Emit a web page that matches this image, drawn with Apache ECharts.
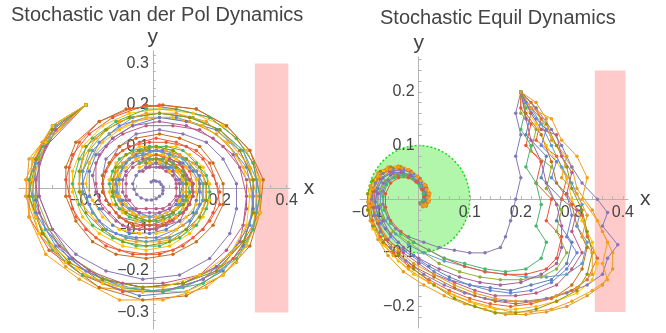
<!DOCTYPE html>
<html>
<head>
<meta charset="utf-8">
<script src="https://cdn.jsdelivr.net/npm/echarts@6/dist/echarts.min.js"></script>
<style>
  html, body { margin: 0; padding: 0; background: #fff; }
  #main { width: 666px; height: 333px; }
</style>
</head>
<body>
<div id="main"></div>
<script>
// left panel: stochastic van der Pol trajectories, all start at (-0.2, 0.2)
const vdp1 = [[-0.2,0.2],[-0.3,0.15],[-0.35,0.07],[-0.36,-0.02],[-0.33,-0.11],[-0.25,-0.18],[-0.15,-0.22],[-0.03,-0.24],[0.09,-0.23],[0.19,-0.19],[0.27,-0.13],[0.32,-0.06],[0.32,0.02],[0.29,0.09],[0.22,0.15],[0.13,0.19],[0.02,0.2],[-0.07,0.19],[-0.16,0.16],[-0.22,0.11],[-0.25,0.05],[-0.25,-0.02],[-0.23,-0.07],[-0.17,-0.12],[-0.1,-0.15],[-0.02,-0.16],[0.06,-0.15],[0.12,-0.12],[0.17,-0.08],[0.2,-0.04],[0.19,0.01],[0.17,0.06],[0.13,0.09],[0.07,0.11],[0.01,0.12],[-0.04,0.11],[-0.09,0.09],[-0.13,0.06],[-0.15,0.03],[-0.15,-0.01],[-0.13,-0.04],[-0.1,-0.07],[-0.06,-0.09],[-0.01,-0.1],[0.03,-0.09],[0.07,-0.07],[0.1,-0.05],[0.12,-0.02],[0.12,0.01],[0.11,0.04],[0.08,0.06],[0.05,0.07],[0.01,0.08],[-0.03,0.08]]
const vdp2 = [[-0.2,0.2],[-0.29,0.15],[-0.37,0.07],[-0.38,-0.02],[-0.34,-0.11],[-0.26,-0.19],[-0.16,-0.24],[-0.03,-0.25],[0.09,-0.24],[0.2,-0.2],[0.26,-0.13],[0.3,-0.06],[0.29,0.02],[0.25,0.08],[0.19,0.13],[0.11,0.16],[0.02,0.17],[-0.06,0.16],[-0.13,0.13],[-0.18,0.09],[-0.21,0.04],[-0.21,-0.01],[-0.18,-0.06],[-0.14,-0.1],[-0.08,-0.12],[-0.02,-0.12],[0.04,-0.12],[0.09,-0.09],[0.13,-0.06],[0.15,-0.03],[0.14,0.01],[0.13,0.04],[0.1,0.07],[0.06,0.08],[0.01,0.09],[-0.03,0.09],[-0.07,0.07],[-0.1,0.05],[-0.11,0.02],[-0.12,-0.01],[-0.1,-0.03],[-0.08,-0.06],[-0.05,-0.07],[-0.01,-0.08],[0.03,-0.07],[0.06,-0.06],[0.09,-0.04],[0.1,-0.02],[0.1,0.01],[0.09,0.03],[0.07,0.05],[0.04,0.06],[0.01,0.07],[-0.03,0.07]]
const vdp3 = [[-0.2,0.2],[-0.29,0.14],[-0.35,0.06],[-0.35,-0.03],[-0.32,-0.1],[-0.25,-0.17],[-0.15,-0.23],[-0.04,-0.26],[0.1,-0.25],[0.21,-0.2],[0.27,-0.14],[0.3,-0.05],[0.3,0.02],[0.26,0.09],[0.19,0.14],[0.1,0.16],[0.02,0.17],[-0.06,0.15],[-0.12,0.12],[-0.17,0.08],[-0.19,0.04],[-0.19,-0.02],[-0.16,-0.05],[-0.12,-0.09],[-0.07,-0.11],[-0.01,-0.11],[0.04,-0.1],[0.08,-0.08],[0.12,-0.06],[0.13,-0.03],[0.14,0.01],[0.12,0.04],[0.09,0.06],[0.05,0.08],[0.01,0.09],[-0.03,0.08],[-0.07,0.07],[-0.09,0.05],[-0.1,0.02],[-0.11,-0.01],[-0.09,-0.03],[-0.07,-0.05],[-0.04,-0.06],[-0.01,-0.07],[0.02,-0.06],[0.05,-0.05],[0.07,-0.04],[0.08,-0.02],[0.09,0.01],[0.08,0.02],[0.06,0.04],[0.04,0.05],[0.01,0.06],[-0.02,0.05]]
const vdp4 = [[-0.2,0.2],[-0.29,0.14],[-0.34,0.07],[-0.35,-0.02],[-0.31,-0.1],[-0.24,-0.17],[-0.14,-0.22],[-0.03,-0.24],[0.09,-0.23],[0.2,-0.19],[0.27,-0.13],[0.3,-0.06],[0.3,0.02],[0.27,0.09],[0.2,0.14],[0.12,0.17],[0.02,0.18],[-0.07,0.17],[-0.14,0.14],[-0.19,0.09],[-0.21,0.04],[-0.21,-0.01],[-0.18,-0.06],[-0.14,-0.1],[-0.08,-0.12],[-0.02,-0.13],[0.05,-0.12],[0.1,-0.1],[0.13,-0.06],[0.15,-0.03],[0.15,0.01],[0.13,0.04],[0.1,0.07],[0.06,0.09],[0.01,0.1],[-0.03,0.09],[-0.07,0.07],[-0.1,0.05],[-0.12,0.02],[-0.12,-0.01],[-0.11,-0.04],[-0.08,-0.06],[-0.05,-0.07],[-0.01,-0.08],[0.03,-0.08],[0.06,-0.06],[0.09,-0.04],[0.1,-0.02],[0.1,0.01],[0.1,0.03],[0.07,0.05],[0.04,0.07],[0.01,0.07],[-0.03,0.07]]
const vdp5 = [[-0.2,0.2],[-0.3,0.14],[-0.34,0.06],[-0.34,-0.02],[-0.3,-0.1],[-0.23,-0.16],[-0.14,-0.2],[-0.03,-0.22],[0.08,-0.21],[0.17,-0.17],[0.23,-0.11],[0.25,-0.05],[0.25,0.01],[0.21,0.07],[0.16,0.11],[0.09,0.13],[0.02,0.14],[-0.05,0.13],[-0.1,0.1],[-0.14,0.07],[-0.15,0.03],[-0.15,-0.01],[-0.13,-0.04],[-0.1,-0.07],[-0.05,-0.08],[-0.01,-0.09],[0.03,-0.08],[0.06,-0.06],[0.08,-0.04],[0.09,-0.02],[0.09,0.01],[0.08,0.02],[0.06,0.04],[0.03,0.05],[0.01,0.05],[-0.02,0.05],[-0.04,0.04],[-0.05,0.03],[-0.06,0.01],[-0.056,-0.003],[-0.048,-0.016],[-0.035,-0.024],[-0.019,-0.029],[-0.004,-0.029],[0.01,-0.026],[0.02,-0.02],[0.029,-0.014],[0.03,-0.006],[0.031,0.002],[0.025,0.008],[0.02,0.014],[0.01,0.016],[0.002,0.017],[-0.005,0.014]]
const vdp6 = [[-0.2,0.2],[-0.3,0.15],[-0.36,0.07],[-0.37,-0.02],[-0.33,-0.11],[-0.26,-0.18],[-0.16,-0.24],[-0.03,-0.27],[0.1,-0.26],[0.21,-0.21],[0.29,-0.14],[0.32,-0.06],[0.33,0.02],[0.29,0.09],[0.22,0.15],[0.13,0.19],[0.03,0.2],[-0.08,0.19],[-0.16,0.16],[-0.23,0.11],[-0.26,0.05],[-0.26,-0.02],[-0.23,-0.08],[-0.18,-0.13],[-0.11,-0.16],[-0.02,-0.17],[0.06,-0.16],[0.13,-0.13],[0.18,-0.09],[0.21,-0.04],[0.21,0.01],[0.18,0.06],[0.14,0.1],[0.08,0.12],[0.02,0.13],[-0.05,0.12],[-0.1,0.1],[-0.13,0.06],[-0.15,0.03],[-0.15,-0.01],[-0.13,-0.04],[-0.1,-0.07],[-0.06,-0.09],[-0.01,-0.09],[0.03,-0.09],[0.07,-0.07],[0.1,-0.05],[0.11,-0.02],[0.12,0.01],[0.1,0.03],[0.08,0.06],[0.05,0.07],[0.01,0.08],[-0.03,0.07]]
const vdp7 = [[-0.2,0.2],[-0.29,0.15],[-0.35,0.06],[-0.36,-0.02],[-0.32,-0.1],[-0.24,-0.17],[-0.15,-0.22],[-0.03,-0.25],[0.09,-0.24],[0.2,-0.2],[0.28,-0.14],[0.31,-0.06],[0.31,0.02],[0.27,0.09],[0.2,0.14],[0.11,0.17],[0.02,0.18],[-0.06,0.17],[-0.13,0.13],[-0.18,0.09],[-0.21,0.04],[-0.21,-0.01],[-0.18,-0.06],[-0.14,-0.1],[-0.08,-0.12],[-0.02,-0.13],[0.05,-0.12],[0.1,-0.1],[0.13,-0.06],[0.15,-0.03],[0.15,0.01],[0.13,0.04],[0.09,0.07],[0.05,0.08],[0.01,0.09],[-0.03,0.08],[-0.07,0.07],[-0.09,0.05],[-0.11,0.02],[-0.11,-0.01],[-0.1,-0.03],[-0.07,-0.05],[-0.04,-0.06],[-0.01,-0.07],[0.03,-0.07],[0.06,-0.06],[0.08,-0.04],[0.09,-0.02],[0.09,0.01],[0.09,0.03],[0.06,0.05],[0.04,0.06],[0.01,0.06],[-0.02,0.06]]
const vdp8 = [[-0.2,0.2],[-0.3,0.15],[-0.36,0.07],[-0.37,-0.02],[-0.34,-0.11],[-0.26,-0.18],[-0.15,-0.23],[-0.03,-0.25],[0.1,-0.25],[0.21,-0.21],[0.28,-0.14],[0.32,-0.06],[0.32,0.02],[0.28,0.09],[0.21,0.15],[0.12,0.18],[0.02,0.19],[-0.07,0.18],[-0.15,0.15],[-0.21,0.1],[-0.24,0.04],[-0.24,-0.01],[-0.21,-0.07],[-0.16,-0.11],[-0.09,-0.14],[-0.02,-0.15],[0.05,-0.14],[0.11,-0.11],[0.15,-0.07],[0.17,-0.03],[0.17,0.01],[0.15,0.05],[0.11,0.08],[0.07,0.1],[0.01,0.1],[-0.04,0.1],[-0.08,0.08],[-0.11,0.06],[-0.13,0.02],[-0.13,-0.01],[-0.12,-0.04],[-0.09,-0.06],[-0.05,-0.08],[-0.01,-0.08],[0.03,-0.08],[0.07,-0.07],[0.09,-0.05],[0.11,-0.02],[0.11,0.01],[0.1,0.03],[0.07,0.05],[0.04,0.07],[0.01,0.07],[-0.03,0.07]]
const vdp9 = [[-0.2,0.2],[-0.29,0.14],[-0.34,0.06],[-0.34,-0.02],[-0.3,-0.1],[-0.24,-0.17],[-0.15,-0.22],[-0.03,-0.24],[0.09,-0.23],[0.19,-0.19],[0.26,-0.13],[0.28,-0.05],[0.28,0.02],[0.24,0.08],[0.18,0.12],[0.1,0.15],[0.02,0.16],[-0.06,0.15],[-0.12,0.12],[-0.16,0.08],[-0.18,0.03],[-0.17,-0.01],[-0.15,-0.05],[-0.11,-0.08],[-0.07,-0.1],[-0.01,-0.1],[0.04,-0.09],[0.08,-0.08],[0.1,-0.05],[0.12,-0.02],[0.12,0.01],[0.1,0.03],[0.08,0.06],[0.05,0.07],[0.01,0.07],[-0.03,0.07],[-0.06,0.06],[-0.08,0.04],[-0.09,0.02],[-0.09,-0.01],[-0.08,-0.03],[-0.06,-0.05],[-0.04,-0.06],[-0.01,-0.06],[0.02,-0.06],[0.05,-0.05],[0.07,-0.03],[0.08,-0.02],[0.08,0.01],[0.07,0.02],[0.06,0.04],[0.03,0.05],[0.01,0.06],[-0.02,0.05]]
const vdp10 = [[-0.2,0.2],[-0.3,0.14],[-0.35,0.07],[-0.37,-0.02],[-0.33,-0.11],[-0.25,-0.18],[-0.15,-0.22],[-0.03,-0.24],[0.09,-0.23],[0.19,-0.2],[0.27,-0.13],[0.3,-0.06],[0.3,0.02],[0.26,0.09],[0.2,0.14],[0.11,0.17],[0.02,0.18],[-0.07,0.17],[-0.14,0.14],[-0.2,0.1],[-0.22,0.04],[-0.22,-0.01],[-0.2,-0.06],[-0.15,-0.1],[-0.09,-0.13],[-0.02,-0.14],[0.05,-0.13],[0.1,-0.1],[0.14,-0.07],[0.16,-0.03],[0.16,0.01],[0.14,0.05],[0.1,0.07],[0.06,0.09],[0.01,0.1],[-0.04,0.09],[-0.08,0.08],[-0.11,0.05],[-0.12,0.02],[-0.12,-0.01],[-0.11,-0.04],[-0.08,-0.06],[-0.05,-0.07],[-0.01,-0.08],[0.03,-0.07],[0.06,-0.06],[0.09,-0.04],[0.1,-0.02],[0.1,0.01],[0.09,0.03],[0.07,0.05],[0.04,0.06],[0.01,0.07],[-0.02,0.06]]
const vdp11 = [[-0.2,0.2],[-0.33,0.11],[-0.37,0.02],[-0.37,-0.07],[-0.31,-0.15],[-0.21,-0.21],[-0.09,-0.25],[0.03,-0.25],[0.15,-0.22],[0.24,-0.17],[0.3,-0.1],[0.32,-0.02],[0.3,0.06],[0.25,0.12],[0.17,0.17],[0.07,0.19],[-0.02,0.2],[-0.12,0.17],[-0.19,0.13],[-0.24,0.08],[-0.26,0.02],[-0.24,-0.05],[-0.2,-0.1],[-0.14,-0.14],[-0.06,-0.16],[0.02,-0.16],[0.09,-0.14],[0.15,-0.1],[0.18,-0.06],[0.2,-0.01],[0.18,0.03],[0.15,0.07],[0.1,0.1],[0.04,0.11],[-0.01,0.11],[-0.07,0.1],[-0.11,0.08],[-0.14,0.04],[-0.15,0.01],[-0.14,-0.03],[-0.11,-0.06],[-0.08,-0.08],[-0.03,-0.09],[0.01,-0.09],[0.05,-0.08],[0.09,-0.06],[0.11,-0.04],[0.12,-0.01],[0.11,0.02],[0.09,0.05],[0.06,0.06],[0.03,0.08],[-0.01,0.08],[-0.05,0.07]]
const vdp12 = [[-0.2,0.2],[-0.32,0.11],[-0.36,0.02],[-0.35,-0.06],[-0.29,-0.14],[-0.2,-0.2],[-0.09,-0.24],[0.03,-0.25],[0.15,-0.22],[0.23,-0.16],[0.29,-0.09],[0.3,-0.02],[0.28,0.05],[0.22,0.11],[0.15,0.15],[0.07,0.17],[-0.02,0.17],[-0.1,0.15],[-0.16,0.11],[-0.19,0.06],[-0.21,0.01],[-0.19,-0.04],[-0.16,-0.08],[-0.11,-0.11],[-0.05,-0.12],[0.01,-0.12],[0.07,-0.1],[0.11,-0.08],[0.14,-0.04],[0.14,-0.01],[0.14,0.03],[0.11,0.05],[0.08,0.08],[0.03,0.09],[-0.01,0.09],[-0.05,0.08],[-0.08,0.06],[-0.1,0.03],[-0.11,0.01],[-0.1,-0.02],[-0.09,-0.04],[-0.06,-0.06],[-0.03,-0.07],[0.01,-0.07],[0.04,-0.06],[0.07,-0.05],[0.09,-0.03],[0.09,-0.01],[0.09,0.02],[0.07,0.04],[0.05,0.05],[0.02,0.06],[-0.01,0.06],[-0.04,0.06]]
const vdp13 = [[-0.2,0.2],[-0.33,0.11],[-0.38,0.02],[-0.37,-0.07],[-0.32,-0.16],[-0.22,-0.22],[-0.1,-0.27],[0.03,-0.27],[0.16,-0.24],[0.25,-0.18],[0.3,-0.1],[0.31,-0.02],[0.29,0.05],[0.23,0.11],[0.16,0.16],[0.07,0.18],[-0.02,0.18],[-0.1,0.16],[-0.17,0.12],[-0.21,0.07],[-0.22,0.01],[-0.21,-0.04],[-0.17,-0.08],[-0.12,-0.12],[-0.05,-0.13],[0.02,-0.13],[0.08,-0.12],[0.12,-0.09],[0.15,-0.05],[0.16,-0.01],[0.15,0.03],[0.12,0.06],[0.08,0.08],[0.04,0.09],[-0.01,0.1],[-0.06,0.08],[-0.09,0.06],[-0.11,0.04],[-0.12,0.01],[-0.11,-0.02],[-0.09,-0.05],[-0.06,-0.06],[-0.03,-0.08],[0.01,-0.08],[0.05,-0.07],[0.07,-0.05],[0.1,-0.03],[0.1,-0.01],[0.1,0.02],[0.08,0.04],[0.06,0.06],[0.03,0.07],[-0.01,0.07],[-0.04,0.06]]
const vdp14 = [[-0.2,0.2],[-0.32,0.1],[-0.35,0.02],[-0.34,-0.06],[-0.28,-0.14],[-0.19,-0.2],[-0.09,-0.23],[0.03,-0.23],[0.14,-0.21],[0.22,-0.15],[0.27,-0.09],[0.28,-0.02],[0.26,0.05],[0.21,0.1],[0.14,0.14],[0.06,0.15],[-0.02,0.15],[-0.09,0.13],[-0.14,0.1],[-0.17,0.06],[-0.17,0.01],[-0.16,-0.03],[-0.13,-0.06],[-0.09,-0.09],[-0.04,-0.1],[0.01,-0.1],[0.06,-0.08],[0.09,-0.06],[0.11,-0.04],[0.12,-0.01],[0.11,0.02],[0.09,0.04],[0.06,0.06],[0.03,0.07],[-0.01,0.07],[-0.04,0.06],[-0.06,0.05],[-0.08,0.03],[-0.08,0.01],[-0.08,-0.02],[-0.07,-0.03],[-0.05,-0.05],[-0.02,-0.05],[0.01,-0.05],[0.03,-0.05],[0.05,-0.04],[0.07,-0.02],[0.07,0.0],[0.07,0.01],[0.06,0.03],[0.04,0.04],[0.02,0.05],[-0.01,0.05],[-0.03,0.04]]
const vdp15 = [[-0.2,0.2],[-0.33,0.1],[-0.37,0.02],[-0.35,-0.07],[-0.3,-0.15],[-0.21,-0.21],[-0.09,-0.24],[0.03,-0.25],[0.15,-0.23],[0.25,-0.17],[0.3,-0.1],[0.32,-0.02],[0.3,0.06],[0.25,0.12],[0.17,0.17],[0.07,0.19],[-0.02,0.19],[-0.11,0.16],[-0.18,0.12],[-0.22,0.07],[-0.24,0.01],[-0.22,-0.04],[-0.18,-0.09],[-0.12,-0.12],[-0.05,-0.14],[0.02,-0.14],[0.08,-0.12],[0.13,-0.09],[0.16,-0.05],[0.17,-0.01],[0.16,0.03],[0.13,0.06],[0.09,0.09],[0.04,0.1],[-0.01,0.1],[-0.06,0.09],[-0.1,0.07],[-0.12,0.04],[-0.13,0.01],[-0.12,-0.02],[-0.1,-0.05],[-0.07,-0.07],[-0.03,-0.08],[0.01,-0.08],[0.05,-0.07],[0.08,-0.06],[0.1,-0.03],[0.11,-0.01],[0.1,0.02],[0.09,0.04],[0.06,0.06],[0.03,0.07],[-0.01,0.07],[-0.04,0.06]]
const vdp16 = [[-0.2,0.2],[-0.32,0.11],[-0.36,0.02],[-0.35,-0.07],[-0.3,-0.14],[-0.2,-0.21],[-0.09,-0.24],[0.03,-0.24],[0.14,-0.21],[0.23,-0.16],[0.28,-0.09],[0.29,-0.02],[0.27,0.05],[0.22,0.11],[0.15,0.15],[0.06,0.17],[-0.02,0.17],[-0.1,0.14],[-0.15,0.11],[-0.19,0.06],[-0.2,0.01],[-0.18,-0.03],[-0.15,-0.07],[-0.1,-0.1],[-0.04,-0.11],[0.01,-0.11],[0.07,-0.1],[0.1,-0.07],[0.13,-0.04],[0.13,-0.01],[0.13,0.02],[0.1,0.05],[0.07,0.07],[0.03,0.08],[-0.01,0.08],[-0.05,0.07],[-0.08,0.05],[-0.1,0.03],[-0.1,0.01],[-0.1,-0.02],[-0.08,-0.04],[-0.06,-0.06],[-0.03,-0.07],[0.01,-0.07],[0.04,-0.06],[0.07,-0.05],[0.08,-0.03],[0.09,-0.01],[0.09,0.02],[0.07,0.04],[0.05,0.04],[0.02,0.06],[-0.01,0.06],[-0.04,0.05]]

// right panel: stochastic equilibrium trajectories, all start at (0.2, 0.2)
const eq1 = [[0.2,0.2],[0.22,0.16],[0.21,0.12],[0.25,0.08],[0.24,0.04],[0.28,0.0],[0.27,-0.04],[0.3,-0.08],[0.29,-0.12],[0.26,-0.15],[0.22,-0.16],[0.18,-0.17],[0.14,-0.165],[0.1,-0.16],[0.06,-0.145],[0.02,-0.125],[-0.01,-0.105],[-0.04,-0.08],[-0.065,-0.055],[-0.08,-0.03],[-0.085,-0.005],[-0.08,0.02],[-0.07,0.04],[-0.05,0.05],[-0.03,0.05],[-0.01,0.04],[0.005,0.025],[0.012,0.01],[0.012,-0.003],[0.006,-0.01]]
const eq2 = [[0.2,0.2],[0.23,0.17],[0.25,0.13],[0.27,0.1],[0.3,0.06],[0.31,0.02],[0.34,-0.02],[0.36,-0.06],[0.38,-0.1],[0.38,-0.13],[0.36,-0.16],[0.33,-0.18],[0.29,-0.2],[0.25,-0.21],[0.21,-0.215],[0.17,-0.215],[0.13,-0.205],[0.09,-0.195],[0.05,-0.18],[0.01,-0.16],[-0.03,-0.135],[-0.06,-0.105],[-0.08,-0.075],[-0.095,-0.04],[-0.1,-0.005],[-0.095,0.025],[-0.08,0.05],[-0.06,0.06],[-0.04,0.062],[-0.02,0.055],[0.0,0.04],[0.015,0.025],[0.022,0.01],[0.02,-0.005],[0.014,-0.013],[0.008,-0.012]]
const eq3 = [[0.2,0.2],[0.2,0.16],[0.23,0.13],[0.22,0.09],[0.26,0.06],[0.25,0.02],[0.28,-0.02],[0.27,-0.06],[0.29,-0.1],[0.27,-0.13],[0.24,-0.145],[0.2,-0.15],[0.16,-0.15],[0.12,-0.145],[0.08,-0.135],[0.04,-0.12],[0.01,-0.1],[-0.02,-0.08],[-0.05,-0.06],[-0.07,-0.035],[-0.075,-0.01],[-0.075,0.015],[-0.065,0.035],[-0.045,0.045],[-0.025,0.045],[-0.008,0.035],[0.005,0.02],[0.01,0.005],[0.007,-0.006],[0.003,-0.008]]
const eq4 = [[0.2,0.2],[0.22,0.18],[0.24,0.15],[0.23,0.11],[0.27,0.08],[0.29,0.04],[0.28,0.0],[0.32,-0.03],[0.33,-0.07],[0.35,-0.11],[0.33,-0.15],[0.3,-0.17],[0.26,-0.185],[0.22,-0.195],[0.18,-0.2],[0.14,-0.195],[0.1,-0.185],[0.06,-0.17],[0.02,-0.15],[-0.02,-0.125],[-0.05,-0.1],[-0.075,-0.07],[-0.09,-0.04],[-0.095,-0.01],[-0.09,0.02],[-0.075,0.045],[-0.055,0.058],[-0.035,0.06],[-0.015,0.052],[0.003,0.038],[0.016,0.02],[0.02,0.005],[0.016,-0.008],[0.009,-0.012]]
const eq5 = [[0.2,0.2],[0.19,0.16],[0.2,0.12],[0.19,0.08],[0.2,0.04],[0.19,0.0],[0.18,-0.04],[0.17,-0.07],[0.16,-0.09],[0.13,-0.1],[0.1,-0.1],[0.07,-0.095],[0.04,-0.09],[0.01,-0.08],[-0.02,-0.07],[-0.045,-0.055],[-0.06,-0.035],[-0.07,-0.01],[-0.07,0.015],[-0.06,0.035],[-0.04,0.045],[-0.02,0.045],[-0.005,0.035],[0.006,0.02],[0.01,0.005],[0.007,-0.005],[0.003,-0.007]]
const eq6 = [[0.2,0.2],[0.21,0.16],[0.24,0.12],[0.26,0.07],[0.27,0.03],[0.3,-0.01],[0.31,-0.05],[0.33,-0.09],[0.32,-0.13],[0.3,-0.16],[0.27,-0.18],[0.23,-0.19],[0.19,-0.195],[0.15,-0.19],[0.11,-0.18],[0.07,-0.165],[0.03,-0.145],[-0.01,-0.125],[-0.04,-0.1],[-0.065,-0.075],[-0.08,-0.045],[-0.09,-0.015],[-0.09,0.015],[-0.08,0.04],[-0.06,0.055],[-0.04,0.06],[-0.02,0.055],[-0.002,0.043],[0.012,0.027],[0.02,0.012],[0.02,-0.002],[0.015,-0.012],[0.008,-0.014]]
const eq7 = [[0.2,0.2],[0.22,0.17],[0.24,0.14],[0.26,0.1],[0.28,0.06],[0.3,0.03],[0.32,-0.01],[0.31,-0.05],[0.33,-0.08],[0.32,-0.12],[0.29,-0.14],[0.25,-0.145],[0.21,-0.145],[0.17,-0.14],[0.13,-0.135],[0.09,-0.125],[0.05,-0.115],[0.01,-0.1],[-0.02,-0.085],[-0.045,-0.065],[-0.065,-0.04],[-0.075,-0.015],[-0.075,0.01],[-0.065,0.03],[-0.048,0.042],[-0.028,0.045],[-0.01,0.038],[0.004,0.024],[0.01,0.01],[0.008,-0.003],[0.004,-0.008]]
const eq8 = [[0.2,0.2],[0.21,0.17],[0.23,0.14],[0.25,0.1],[0.27,0.07],[0.29,0.04],[0.3,0.0],[0.32,-0.04],[0.34,-0.08],[0.35,-0.12],[0.34,-0.15],[0.31,-0.175],[0.27,-0.19],[0.23,-0.2],[0.19,-0.205],[0.15,-0.205],[0.11,-0.195],[0.07,-0.18],[0.03,-0.16],[-0.01,-0.14],[-0.04,-0.115],[-0.07,-0.085],[-0.09,-0.055],[-0.1,-0.02],[-0.098,0.01],[-0.088,0.035],[-0.07,0.052],[-0.048,0.06],[-0.027,0.058],[-0.008,0.047],[0.008,0.032],[0.018,0.016],[0.02,0.002],[0.015,-0.009],[0.009,-0.012]]
const eq9 = [[0.2,0.2],[0.21,0.15],[0.22,0.11],[0.24,0.07],[0.25,0.03],[0.27,-0.01],[0.28,-0.05],[0.28,-0.09],[0.27,-0.12],[0.24,-0.14],[0.2,-0.155],[0.16,-0.16],[0.12,-0.155],[0.08,-0.145],[0.04,-0.13],[0.0,-0.11],[-0.03,-0.09],[-0.055,-0.065],[-0.07,-0.04],[-0.08,-0.015],[-0.08,0.01],[-0.07,0.03],[-0.055,0.045],[-0.035,0.05],[-0.015,0.045],[0.0,0.032],[0.01,0.018],[0.013,0.004],[0.009,-0.007],[0.004,-0.009]]
const eq10 = [[0.2,0.2],[0.22,0.17],[0.25,0.14],[0.27,0.1],[0.29,0.06],[0.3,0.02],[0.32,-0.02],[0.33,-0.06],[0.34,-0.1],[0.33,-0.14],[0.31,-0.17],[0.27,-0.19],[0.23,-0.205],[0.19,-0.212],[0.15,-0.212],[0.11,-0.2],[0.07,-0.185],[0.03,-0.16],[-0.01,-0.13],[-0.04,-0.105],[-0.07,-0.08],[-0.09,-0.05],[-0.1,-0.02],[-0.1,0.01],[-0.09,0.035],[-0.075,0.052],[-0.055,0.06],[-0.035,0.06],[-0.015,0.05],[0.002,0.036],[0.014,0.02],[0.018,0.005],[0.015,-0.007],[0.009,-0.011]]
const eq11 = [[0.2,0.2],[0.23,0.17],[0.26,0.13],[0.28,0.1],[0.3,0.06],[0.32,0.03],[0.35,0.0],[0.37,-0.025],[0.36,-0.05],[0.39,-0.085],[0.37,-0.11],[0.36,-0.14],[0.33,-0.16],[0.29,-0.175],[0.25,-0.185],[0.21,-0.19],[0.17,-0.19],[0.13,-0.185],[0.09,-0.175],[0.05,-0.16],[0.01,-0.14],[-0.025,-0.115],[-0.055,-0.09],[-0.075,-0.06],[-0.088,-0.03],[-0.092,0.0],[-0.085,0.03],[-0.07,0.048],[-0.05,0.057],[-0.03,0.057],[-0.012,0.048],[0.003,0.033],[0.013,0.018],[0.016,0.004],[0.012,-0.007],[0.006,-0.01]]
const eq12 = [[0.2,0.2],[0.2,0.17],[0.22,0.14],[0.21,0.1],[0.24,0.07],[0.23,0.03],[0.26,0.0],[0.25,-0.04],[0.28,-0.07],[0.27,-0.11],[0.25,-0.13],[0.21,-0.14],[0.17,-0.14],[0.13,-0.135],[0.09,-0.125],[0.05,-0.11],[0.02,-0.095],[-0.01,-0.08],[-0.035,-0.06],[-0.055,-0.04],[-0.065,-0.015],[-0.065,0.01],[-0.055,0.03],[-0.04,0.04],[-0.02,0.04],[-0.005,0.032],[0.006,0.018],[0.01,0.005],[0.007,-0.005],[0.003,-0.007]]
const eq13 = [[0.2,0.2],[0.21,0.18],[0.23,0.15],[0.25,0.13],[0.24,0.1],[0.27,0.07],[0.26,0.04],[0.29,0.01],[0.3,-0.03],[0.29,-0.07],[0.31,-0.1],[0.29,-0.13],[0.26,-0.155],[0.22,-0.17],[0.18,-0.175],[0.14,-0.17],[0.1,-0.16],[0.06,-0.15],[0.03,-0.135],[0.0,-0.115],[-0.03,-0.095],[-0.055,-0.07],[-0.075,-0.045],[-0.085,-0.015],[-0.083,0.015],[-0.072,0.038],[-0.052,0.052],[-0.03,0.055],[-0.01,0.047],[0.005,0.032],[0.014,0.016],[0.015,0.002],[0.01,-0.008],[0.005,-0.01]]
const eq14 = [[0.2,0.2],[0.22,0.17],[0.26,0.15],[0.28,0.11],[0.31,0.08],[0.33,0.04],[0.32,0.0],[0.35,-0.04],[0.37,-0.08],[0.36,-0.12],[0.37,-0.15],[0.34,-0.17],[0.3,-0.19],[0.26,-0.205],[0.22,-0.21],[0.18,-0.21],[0.14,-0.2],[0.1,-0.19],[0.06,-0.175],[0.02,-0.155],[-0.02,-0.13],[-0.05,-0.105],[-0.075,-0.075],[-0.09,-0.045],[-0.097,-0.012],[-0.093,0.018],[-0.08,0.042],[-0.062,0.056],[-0.04,0.06],[-0.02,0.055],[-0.002,0.042],[0.012,0.026],[0.02,0.01],[0.019,-0.004],[0.013,-0.012],[0.007,-0.012]]
const eq15 = [[0.2,0.2],[0.22,0.16],[0.24,0.13],[0.27,0.12],[0.28,0.08],[0.3,0.05],[0.29,0.01],[0.31,-0.02],[0.3,-0.06],[0.32,-0.1],[0.3,-0.13],[0.27,-0.16],[0.23,-0.175],[0.19,-0.18],[0.15,-0.18],[0.11,-0.17],[0.07,-0.155],[0.03,-0.14],[0.0,-0.12],[-0.03,-0.1],[-0.06,-0.075],[-0.08,-0.045],[-0.088,-0.015],[-0.086,0.015],[-0.075,0.038],[-0.056,0.052],[-0.035,0.056],[-0.015,0.05],[0.002,0.036],[0.013,0.02],[0.016,0.004],[0.012,-0.007],[0.006,-0.01]]
const eq16 = [[0.2,0.2],[0.21,0.17],[0.2,0.13],[0.22,0.1],[0.21,0.06],[0.23,0.03],[0.24,-0.01],[0.23,-0.05],[0.25,-0.08],[0.24,-0.11],[0.21,-0.13],[0.17,-0.135],[0.13,-0.13],[0.09,-0.12],[0.05,-0.11],[0.02,-0.095],[-0.01,-0.08],[-0.035,-0.065],[-0.055,-0.045],[-0.068,-0.02],[-0.07,0.005],[-0.063,0.027],[-0.048,0.04],[-0.03,0.044],[-0.012,0.038],[0.002,0.025],[0.009,0.01],[0.008,-0.002],[0.004,-0.007]]
const eq17 = [[0.2,0.2],[0.23,0.18],[0.25,0.15],[0.26,0.11],[0.29,0.08],[0.28,0.04],[0.31,0.01],[0.33,-0.03],[0.32,-0.07],[0.34,-0.1],[0.34,-0.14],[0.31,-0.165],[0.27,-0.18],[0.23,-0.19],[0.19,-0.19],[0.15,-0.185],[0.11,-0.175],[0.07,-0.16],[0.03,-0.14],[-0.01,-0.12],[-0.04,-0.095],[-0.065,-0.07],[-0.08,-0.04],[-0.09,-0.01],[-0.087,0.02],[-0.075,0.043],[-0.055,0.056],[-0.033,0.058],[-0.013,0.05],[0.004,0.035],[0.015,0.018],[0.018,0.003],[0.013,-0.009],[0.007,-0.011]]

const vdpPaths = [vdp1, vdp2, vdp3, vdp4, vdp5, vdp6, vdp7, vdp8, vdp9, vdp10, vdp11, vdp12, vdp13, vdp14, vdp15, vdp16]
const eqPaths = [eq1, eq2, eq3, eq4, eq5, eq6, eq7, eq8, eq9, eq10, eq11, eq12, eq13, eq14, eq15, eq16, eq17]
const vdpColors = ['#EB6235', '#E19C24', '#5E81B5', '#8FB032', '#8778B3', '#C56E1A', '#5D9EC7', '#FFBF00', '#A5609D', '#929600', '#E95536', '#6685D9', '#F89F13', '#BC5B80', '#47B66D', '#FFBF00']
const eqColors = ['#5E81B5', '#E19C24', '#8FB032', '#EB6235', '#8778B3', '#C56E1A', '#5D9EC7', '#FFBF00', '#A5609D', '#929600', '#8778B3', '#E95536', '#6685D9', '#F89F13', '#BC5B80', '#47B66D', '#E19C24']

// regions: [x0, y0, x1, y1] and circle [cx, cy, r]
const vdpRegion = [0.305, -0.3, 0.405, 0.3]
const eqRegion = [0.345, -0.21, 0.405, 0.24]
const eqCircle = [0, 0, 0.1]

// tick labels and tick marks
const vdpXLabels = [-0.2, 0.2, 0.4]
const vdpYLabels = [-0.3, -0.2, -0.1, 0.1, 0.2, 0.3]
const eqXLabels = [-0.1, 0.1, 0.2, 0.3, 0.4]
const eqYLabels = [-0.2, -0.1, 0.1, 0.2]
const vdpXTicks = [-0.35, -0.3, -0.25, -0.2, -0.15, -0.1, -0.05, 0.05, 0.1, 0.15, 0.2, 0.25, 0.3, 0.35, 0.4]
const vdpYTicks = [-0.32, -0.3, -0.28, -0.26, -0.24, -0.22, -0.2, -0.18, -0.16, -0.14, -0.12, -0.1, -0.08, -0.06, -0.04, -0.02, 0.02, 0.04, 0.06, 0.08, 0.1, 0.12, 0.14, 0.16, 0.18, 0.2, 0.22, 0.24, 0.26, 0.28, 0.3, 0.32]
const eqXTicks = [-0.1, -0.08, -0.06, -0.04, -0.02, 0.02, 0.04, 0.06, 0.08, 0.1, 0.12, 0.14, 0.16, 0.18, 0.2, 0.22, 0.24, 0.26, 0.28, 0.3, 0.32, 0.34, 0.36, 0.38, 0.4]
const eqYTicks = [-0.22, -0.2, -0.18, -0.16, -0.14, -0.12, -0.1, -0.08, -0.06, -0.04, -0.02, 0.02, 0.04, 0.06, 0.08, 0.1, 0.12, 0.14, 0.16, 0.18, 0.2, 0.22, 0.24, 0.26]

const FONT = 'Liberation Sans, Arial, sans-serif'
const TXT = '#444'
const AXC = '#b4b4b4'

const grids = [
  { left: 19, top: 51, width: 271, height: 278 },
  { left: 360, top: 57, width: 268, height: 271 }
]

function fmt (v) { return String(v).replace('-', '\u2212') }

// axes cross at the origin: shift each axis from its grid edge to zero
function makeAxis (gridIndex, min, max, otherMin, otherMax, labels, ticks, name, isX) {
  const g = grids[gridIndex]
  const offset = isX
    ? -(0 - otherMin) / (otherMax - otherMin) * g.height
    : -(0 - otherMin) / (otherMax - otherMin) * g.width
  return {
    type: 'value',
    gridIndex: gridIndex,
    min: min,
    max: max,
    position: isX ? 'bottom' : 'left',
    offset: offset,
    name: name,
    nameLocation: 'end',
    nameGap: isX ? 7 : 3,
    nameTextStyle: { fontSize: 21, color: TXT, fontFamily: FONT },
    splitLine: { show: false },
    axisLine: { onZero: false, lineStyle: { color: AXC, width: 1 } },
    axisTick: { show: true, inside: true, length: 3, customValues: ticks, lineStyle: { color: AXC } },
    axisLabel: {
      customValues: labels,
      formatter: fmt,
      fontSize: 16,
      color: TXT,
      fontFamily: FONT,
      margin: isX ? 5 : 4
    }
  }
}

function pathSeries (paths, colors, idx) {
  return paths.map((p, i) => ({
    type: 'line',
    xAxisIndex: idx,
    yAxisIndex: idx,
    data: p,
    symbol: 'circle',
    symbolSize: 3.5,
    showSymbol: true,
    clip: false,
    z: 3,
    lineStyle: { width: 1, color: colors[i] },
    itemStyle: { color: colors[i] },
    emphasis: { disabled: true }
  }))
}

function rectSeries (region, idx) {
  return {
    type: 'custom',
    xAxisIndex: idx,
    yAxisIndex: idx,
    z: -1,
    silent: true,
    data: [region],
    renderItem: function (params, api) {
      const a = api.coord([api.value(0), api.value(3)])
      const b = api.coord([api.value(2), api.value(1)])
      return { type: 'rect', shape: { x: a[0], y: a[1], width: b[0] - a[0], height: b[1] - a[1] }, style: { fill: '#ffcaca' } }
    }
  }
}

const chart = echarts.init(document.getElementById('main'), null, { renderer: 'canvas' })
chart.setOption({
  animation: false,
  backgroundColor: '#fff',
  title: [
    { text: 'Stochastic van der Pol Dynamics', left: 6, top: 0, textStyle: { fontSize: 20, fontWeight: 'normal', color: TXT, fontFamily: FONT } },
    { text: 'Stochastic Equil Dynamics', left: 375, top: 3, textStyle: { fontSize: 20, fontWeight: 'normal', color: TXT, fontFamily: FONT } }
  ],
  grid: grids.map(g => Object.assign({ containLabel: false, outerBoundsMode: 'none' }, g)),
  xAxis: [
    makeAxis(0, -0.4, 0.41, -0.34, 0.33, vdpXLabels, vdpXTicks, 'x', true),
    makeAxis(1, -0.115, 0.41, -0.24, 0.265, eqXLabels, eqXTicks, 'x', true)
  ],
  yAxis: [
    makeAxis(0, -0.34, 0.33, -0.4, 0.41, vdpYLabels, vdpYTicks, 'y', false),
    makeAxis(1, -0.24, 0.265, -0.115, 0.41, eqYLabels, eqYTicks, 'y', false)
  ],
  series: [
    rectSeries(vdpRegion, 0),
    rectSeries(eqRegion, 1),
    {
      type: 'custom',
      xAxisIndex: 1,
      yAxisIndex: 1,
      z: -1,
      silent: true,
      data: [eqCircle],
      renderItem: function (params, api) {
        const c = api.coord([api.value(0), api.value(1)])
        const ex = api.coord([api.value(0) + api.value(2), api.value(1)])
        const ey = api.coord([api.value(0), api.value(1) + api.value(2)])
        const rx = ex[0] - c[0]
        const ry = c[1] - ey[1]
        return {
          type: 'circle',
          x: c[0],
          y: c[1],
          scaleY: ry / rx,
          shape: { cx: 0, cy: 0, r: rx },
          style: { fill: 'rgb(178,246,172)', stroke: '#11dd11', lineWidth: 1.4, lineDash: [2, 2] }
        }
      }
    }
  ].concat(pathSeries(vdpPaths, vdpColors, 0), pathSeries(eqPaths, eqColors, 1))
})
</script>
</body>
</html>
